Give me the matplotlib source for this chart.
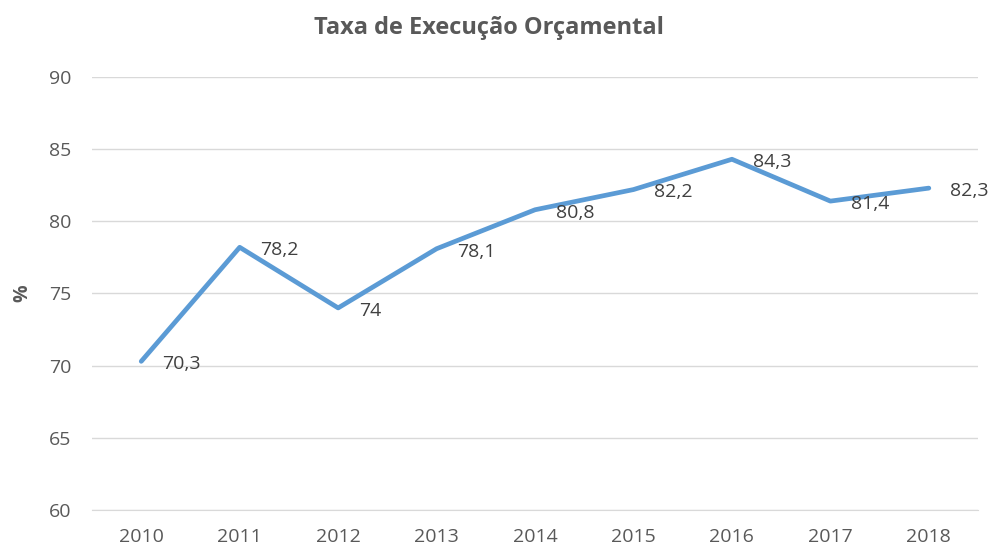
import matplotlib.pyplot as plt

plt.rcParams['font.family'] = ['Open Sans', 'DejaVu Sans']

anos = ['2010', '2011', '2012', '2013', '2014', '2015', '2016', '2017', '2018']
taxa = [70.3, 78.2, 74, 78.1, 80.8, 82.2, 84.3, 81.4, 82.3]
rotulos = ['70,3', '78,2', '74', '78,1', '80,8', '82,2', '84,3', '81,4', '82,3']

fig = plt.figure(figsize=(9.97, 5.51), dpi=100)
ax = fig.add_axes([0.0923, 0.0744, 0.8887, 0.7859])

x = range(len(anos))
ax.plot(x, taxa, color='#5B9BD5', linewidth=3.4, solid_capstyle='round')
for xi, v, r in zip(x, taxa, rotulos):
    ax.annotate(r, (xi, v), xytext=(15, -2), textcoords='offset points',
                ha='left', va='center', fontsize=14, color='#404040')

ax.set_xlim(-0.5, len(anos) - 0.5)
ax.set_ylim(60, 90)
ax.set_yticks(range(60, 91, 5))
ax.set_xticks(list(x))
ax.set_xticklabels(anos)
ax.grid(axis='y', color='#D9D9D9', linewidth=1)
ax.set_axisbelow(True)
for s in ['top', 'right', 'left']:
    ax.spines[s].set_visible(False)
ax.spines['bottom'].set_color('#D9D9D9')
ax.tick_params(axis='both', length=0, labelsize=14, colors='#595959')
ax.tick_params(axis='y', pad=15)
ax.tick_params(axis='x', pad=13)

ax.set_ylabel('%', fontsize=14, fontweight='bold', color='#595959', labelpad=12)
fig.text(0.49, 0.95, 'Taxa de Execução Orçamental', ha='center', va='center',
         fontsize=17, fontweight='bold', color='#595959')

fig.savefig('out.png', dpi=100)
